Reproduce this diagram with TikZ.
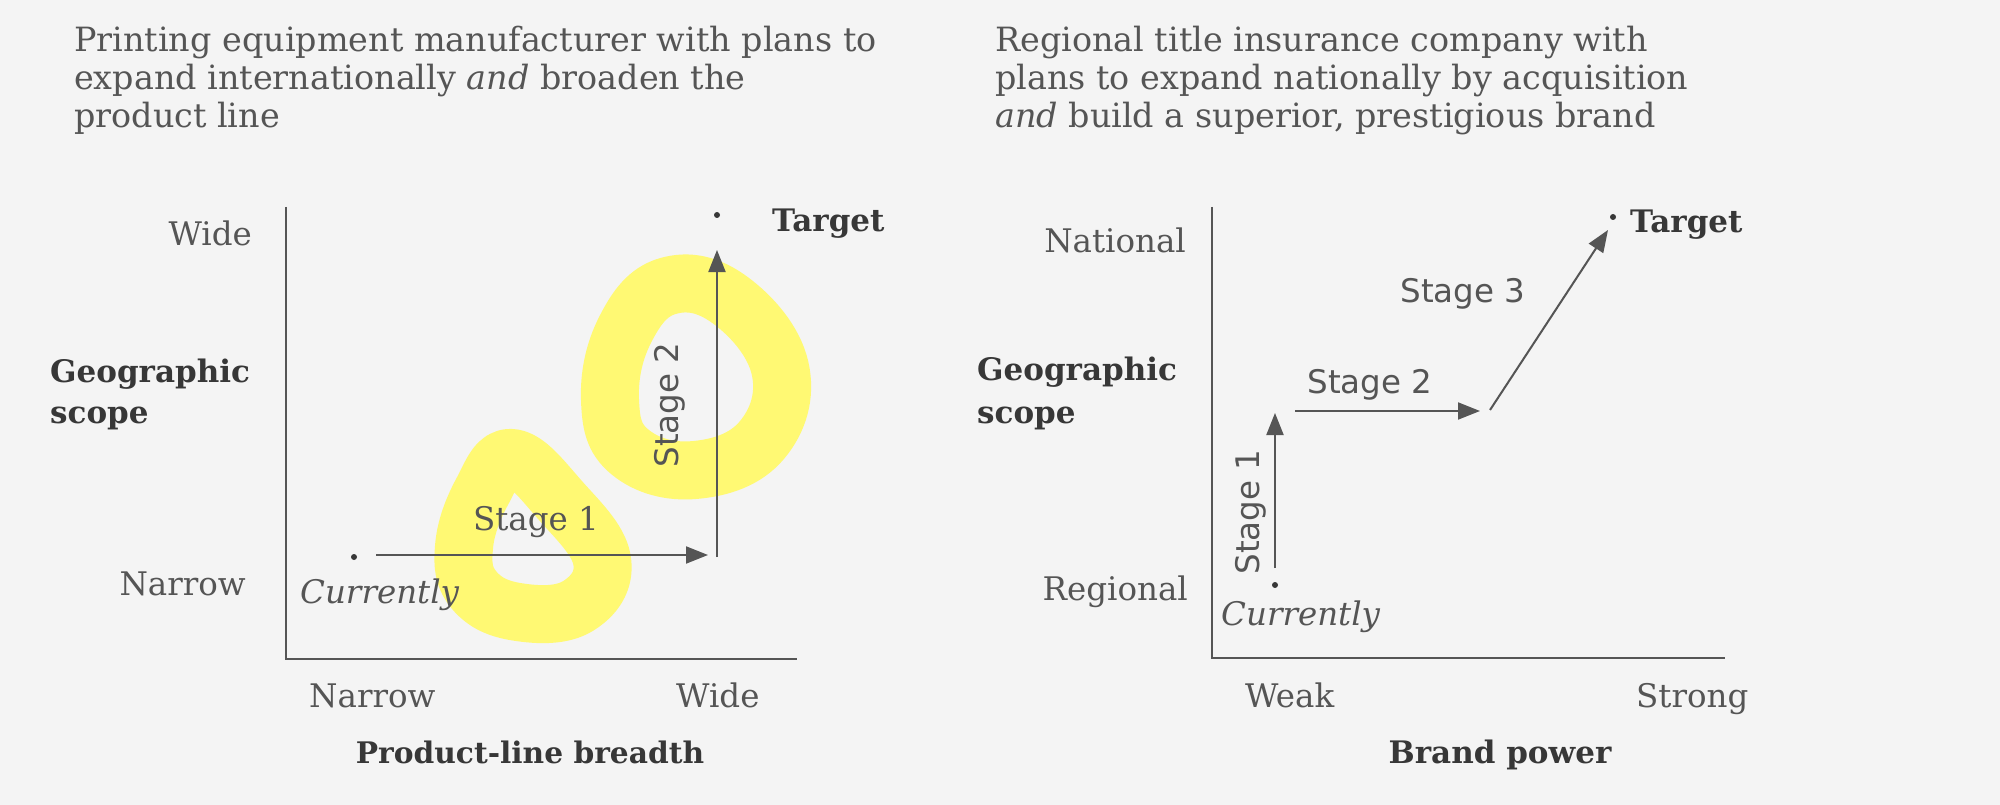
\documentclass[tikz,border=0pt]{standalone}
\usepackage{fontspec}
\setmainfont{DejaVu Serif}
\newfontfamily\stagefont{DejaVu Sans}
\usetikzlibrary{arrows.meta}
\definecolor{paper}{RGB}{244,244,244}
\definecolor{ink}{RGB}{85,85,85}
\definecolor{inkdark}{RGB}{55,55,55}
\definecolor{hilite}{RGB}{255,249,115}
\begin{document}
\begin{tikzpicture}[x=1pt,y=-1pt,
  txt/.style={text=ink, inner sep=0pt, font=\fontsize{32.5}{38}\selectfont},
  titletxt/.style={text=ink, inner sep=0pt, font=\fontsize{33.4}{38}\selectfont},
  boldtxt/.style={text=inkdark, inner sep=0pt, font=\fontsize{31}{38}\selectfont\bfseries},
  stagesans/.style={text=ink, inner sep=0pt, font=\fontsize{32.5}{36}\selectfont\stagefont},
  axis/.style={draw=ink, line width=2.4pt},
  stagearrow/.style={draw=ink, line width=2pt, -{Triangle[length=22pt,width=17pt]}},
  hl/.style={draw=hilite, line width=58pt, line join=round},
  dotmark/.style={fill=inkdark}]
\fill[paper] (0,0) rectangle (2000,805);
\useasboundingbox (0,0) rectangle (2000,805);

% highlighter marks
\draw[hl] plot[smooth cycle, tension=0.7] coordinates {(464,547) (482,492) (512,458) (560,500) (602,560) (578,606) (518,612) (474,590)};
\draw[hl] plot[smooth cycle, tension=0.7] coordinates {(610,400) (625,330) (668,286) (730,300) (780,368) (762,440) (695,470) (630,452)};

% ---------------- left chart ----------------
\node[titletxt, anchor=base west] (lt1) at (74,52) {Printing equipment manufacturer with plans to};
\node[titletxt, anchor=base west] (lt2) at (74,90) {expand internationally \textit{and} broaden the};
\node[titletxt, anchor=base west] (lt3) at (74,128) {product line};

\coordinate (lo) at (286,659);
\coordinate (ly) at (286,207);
\coordinate (lx) at (797,659);
\draw[axis] (ly) -- (lo) -- (lx);

\node[txt, anchor=base east] (lwide) at (252,245) {Wide};
\node[boldtxt, anchor=base west] (lgeo) at (50,382) {Geographic};
\node[boldtxt, anchor=base west] (lscope) at (50,423) {scope};
\node[txt, anchor=base east] (lnarrow) at (246,595) {Narrow};

\coordinate (lcur) at (354,557);
\fill[dotmark] (lcur) circle (3pt);
\node[txt, anchor=base west, font=\fontsize{32.5}{38}\selectfont\itshape] (lcurtxt) at (300,603) {Currently};

\coordinate (ls1a) at (376,555);
\coordinate (ls1b) at (708,555);
\draw[stagearrow] (ls1a) -- (ls1b);
\node[txt, anchor=base] (ls1) at (536,530) {Stage 1};

\coordinate (ls2a) at (717,557);
\coordinate (ls2b) at (717,250);
\draw[stagearrow] (ls2a) -- (ls2b);
\node[stagesans, rotate=90] (ls2) at (670,405) {Stage 2};

\coordinate (ltgt) at (717,215);
\fill[dotmark] (ltgt) circle (3pt);
\node[boldtxt, anchor=base west] (ltarget) at (772,232) {Target};

\node[txt, anchor=base west] (lxnarrow) at (309,707) {Narrow};
\node[txt, anchor=base west] (lxwide) at (676,707) {Wide};
\node[boldtxt, anchor=base, font=\fontsize{29.7}{38}\selectfont\bfseries] (lxlabel) at (530,763) {Product-line breadth};

% ---------------- right chart ----------------
\node[titletxt, anchor=base west] (rt1) at (995,52) {Regional title insurance company with};
\node[titletxt, anchor=base west] (rt2) at (995,90) {plans to expand nationally by acquisition};
\node[titletxt, anchor=base west] (rt3) at (995,128) {\textit{and} build a superior, prestigious brand};

\coordinate (ro) at (1212,658);
\coordinate (ry) at (1212,207);
\coordinate (rx) at (1725,658);
\draw[axis] (ry) -- (ro) -- (rx);

\node[txt, anchor=base east] (rnat) at (1186,253) {National};
\node[boldtxt, anchor=base west] (rgeo) at (977,380) {Geographic};
\node[boldtxt, anchor=base west] (rscope) at (977,423) {scope};
\node[txt, anchor=base east] (rreg) at (1188,600) {Regional};

\coordinate (rcur) at (1275,585);
\fill[dotmark] (rcur) circle (3pt);
\node[txt, anchor=base west, font=\fontsize{32.5}{38}\selectfont\itshape] (rcurtxt) at (1221,625) {Currently};

\coordinate (rs1a) at (1275,568);
\coordinate (rs1b) at (1275,413);
\draw[stagearrow] (rs1a) -- (rs1b);
\node[stagesans, rotate=90] (rs1) at (1251,512) {Stage 1};

\coordinate (rs2a) at (1295,411);
\coordinate (rs2b) at (1480,411);
\draw[stagearrow] (rs2a) -- (rs2b);
\node[stagesans, anchor=base] (rs2) at (1370,393) {Stage 2};

\coordinate (rs3a) at (1490,410);
\coordinate (rs3b) at (1608,230);
\draw[stagearrow] (rs3a) -- (rs3b);
\node[stagesans, anchor=base] (rs3) at (1463,302) {Stage 3};

\coordinate (rtgt) at (1613,217);
\fill[dotmark] (rtgt) circle (3pt);
\node[boldtxt, anchor=base west] (rtarget) at (1630,233) {Target};

\node[txt, anchor=base west] (rweak) at (1245,707) {Weak};
\node[txt, anchor=base west] (rstrong) at (1636,707) {Strong};
\node[boldtxt, anchor=base] (rxlabel) at (1500,763) {Brand power};
\end{tikzpicture}
\end{document}
